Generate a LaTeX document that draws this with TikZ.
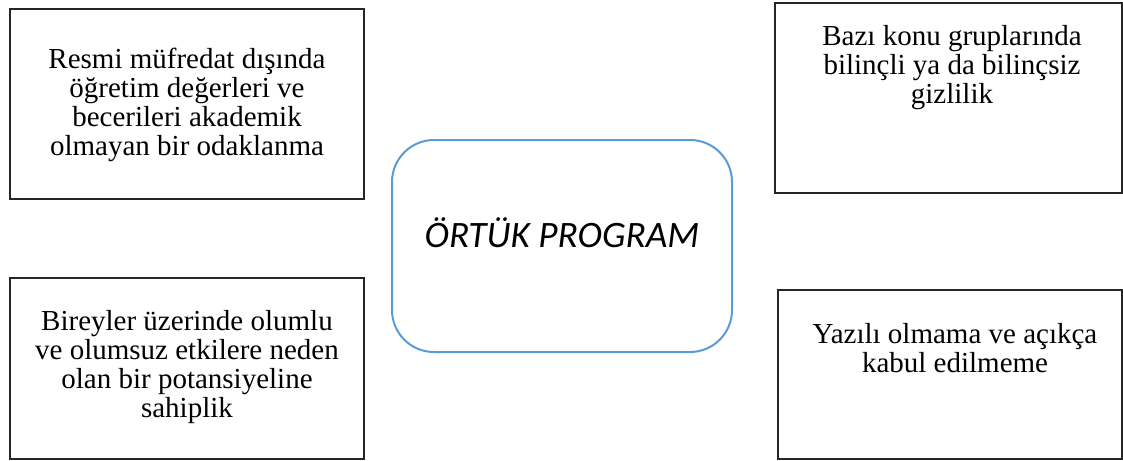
\documentclass[tikz,border=0pt]{standalone}
\usepackage{fontspec}
\setmainfont{Liberation Serif}
\newfontfamily\carlito{Carlito}
\definecolor{frameblue}{RGB}{91,155,213}
\begin{document}
\begin{tikzpicture}[x=1pt,y=-1pt,
  box/.style={draw=black!85, line width=1.1pt, inner sep=0pt},
  txt/.style={font=\fontsize{29}{28.7}\selectfont, align=center, inner sep=0pt, anchor=base},
  core/.style={draw=frameblue, line width=2pt, rounded corners=42pt, inner sep=0pt}]
\useasboundingbox (0,0) rectangle (1123,460);
\node[box, minimum width=354pt, minimum height=190pt] (b1) at (187,104) {};
\node[box, minimum width=347pt, minimum height=190pt] (b2) at (948.5,98) {};
\node[box, minimum width=354pt, minimum height=181pt] (b3) at (187,368.5) {};
\node[box, minimum width=344pt, minimum height=169pt] (b4) at (950,374.5) {};
\node[core, minimum width=340pt, minimum height=212pt] (c) at (562,246) {};
\node[txt] (t1) at (187,155) {Resmi müfredat dışında\\öğretim değerleri ve\\becerileri akademik\\olmayan bir odaklanma};
\node[txt] (t2) at (952,103) {Bazı konu gruplarında\\bilinçli ya da bilinçsiz\\gizlilik};
\node[txt] (t3) at (187,417) {Bireyler üzerinde olumlu\\ve olumsuz etkilere neden\\olan bir potansiyeline\\sahiplik};
\node[txt] (t4) at (955,372) {Yazılı olmama ve açıkça\\kabul edilmeme};
\node[inner sep=0pt, anchor=base, font=\carlito\itshape\fontsize{37.3}{40}\selectfont] (ct) at (562,247) {ÖRTÜK PROGRAM};
\end{tikzpicture}
\end{document}
